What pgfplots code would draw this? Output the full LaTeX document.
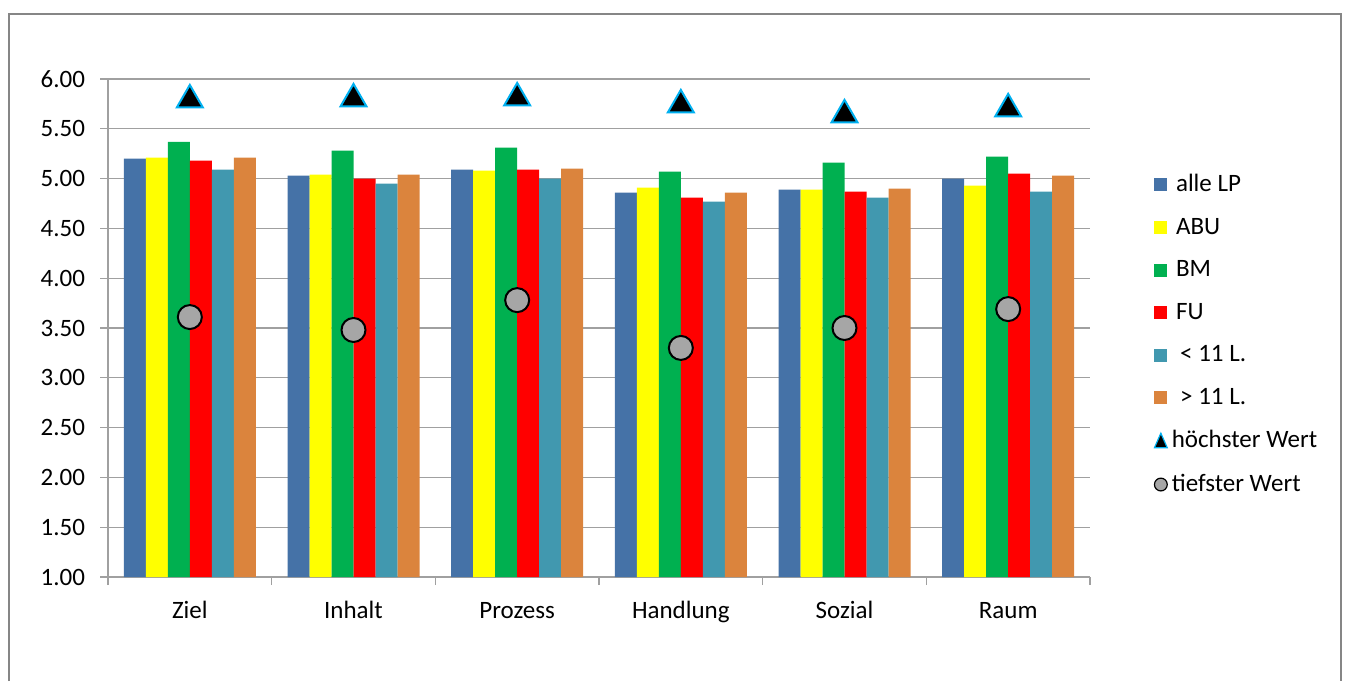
\documentclass[border=0pt]{standalone}
\usepackage{pgfplots}
\pgfplotsset{compat=1.18}
\usepackage{fontspec}
\setmainfont{Carlito}
\definecolor{cBlue}{HTML}{4572A7}
\definecolor{cYellow}{HTML}{FFFF00}
\definecolor{cGreen}{HTML}{00B050}
\definecolor{cRed}{HTML}{FF0000}
\definecolor{cTeal}{HTML}{4198AF}
\definecolor{cOrange}{HTML}{DB843D}
\definecolor{cTri}{HTML}{00B0F0}
\definecolor{cCirc}{HTML}{A6A6A6}
\definecolor{cGrid}{HTML}{A0A0A0}
\definecolor{cFrame}{HTML}{868686}
\pgfplotsset{
  sq/.style={legend image code/.code={\fill[#1] (0pt,-3.25pt) rectangle (6.5pt,3.25pt);}},
}
\begin{document}
\begin{tikzpicture}[font=\fontsize{12.5}{15}\selectfont]
\path[use as bounding box] (0,0) rectangle (674pt,340.5pt);
\draw[cFrame, line width=1pt] (4.5pt,0) -- (4.5pt,333.5pt) -- (670.5pt,333.5pt) -- (670.5pt,0);
\begin{axis}[
  at={(54pt,52pt)}, anchor=south west, scale only axis,
  width=491pt, height=249pt,
  xmin=-0.5, xmax=5.5, ymin=1, ymax=6,
  ytick={1,1.5,...,6},
  xtick={0,1,2,3,4,5},
  xticklabels={Ziel,Inhalt,Prozess,Handlung,Sozial,Raum},
  minor xtick={-0.5,0.5,...,5.5},
  major x tick style={draw=none},
  tick align=outside,
  major tick length=4pt, minor tick length=4pt,
  tick style={cGrid, line width=0.6pt},
  axis x line*=bottom, axis y line*=left,
  axis line style={cGrid, line width=0.6pt},
  ymajorgrids, grid style={cGrid, line width=0.6pt},
  /pgf/number format/assume math mode=true,
  yticklabel style={/pgf/number format/fixed, /pgf/number format/fixed zerofill, /pgf/number format/precision=2, xshift=-4pt},
  xticklabel style={yshift=-4pt, text height=9pt, text depth=3pt},
  legend style={draw=none, fill=none, at={(1.0585,0.825)}, anchor=north west, row sep=7.7pt, cells={anchor=west}, font=\fontsize{12.5}{15}\selectfont},
]
\addplot[ybar, bar width=11pt, bar shift=-27.5pt, fill=cBlue, draw=none, sq=cBlue] coordinates {(0,5.20) (1,5.03) (2,5.09) (3,4.86) (4,4.89) (5,5.00)};
\addlegendentry{\,alle LP}
\addplot[ybar, bar width=11pt, bar shift=-16.5pt, fill=cYellow, draw=none, sq=cYellow] coordinates {(0,5.21) (1,5.04) (2,5.08) (3,4.91) (4,4.89) (5,4.93)};
\addlegendentry{\,ABU}
\addplot[ybar, bar width=11pt, bar shift=-5.5pt, fill=cGreen, draw=none, sq=cGreen] coordinates {(0,5.37) (1,5.28) (2,5.31) (3,5.07) (4,5.16) (5,5.22)};
\addlegendentry{\,BM}
\addplot[ybar, bar width=11pt, bar shift=5.5pt, fill=cRed, draw=none, sq=cRed] coordinates {(0,5.18) (1,5.00) (2,5.09) (3,4.81) (4,4.87) (5,5.05)};
\addlegendentry{\,FU}
\addplot[ybar, bar width=11pt, bar shift=16.5pt, fill=cTeal, draw=none, sq=cTeal] coordinates {(0,5.09) (1,4.95) (2,5.00) (3,4.77) (4,4.81) (5,4.87)};
\addlegendentry{\,\,< 11 L.}
\addplot[ybar, bar width=11pt, bar shift=27.5pt, fill=cOrange, draw=none, sq=cOrange] coordinates {(0,5.21) (1,5.04) (2,5.10) (3,4.86) (4,4.90) (5,5.03)};
\addlegendentry{\,\,> 11 L.}
\addplot[only marks, mark=triangle*, mark size=7.5pt, mark options={fill=black, draw=cTri, line width=1pt},
  legend image code/.code={\draw[fill=black, draw=cTri, line width=0.6pt] (0.3pt,-3.5pt) -- (6.7pt,-3.5pt) -- (3.5pt,3.8pt) -- cycle;}]
  coordinates {(0,5.79) (1,5.80) (2,5.81) (3,5.74) (4,5.64) (5,5.70)};
\addlegendentry{höchster Wert}
\addplot[only marks, mark=*, mark size=6pt, mark options={fill=cCirc, draw=black, line width=1pt},
  legend image code/.code={\draw[fill=cCirc, draw=black, line width=0.6pt] (3.5pt,0pt) circle (3.2pt);}]
  coordinates {(0,3.61) (1,3.48) (2,3.78) (3,3.30) (4,3.50) (5,3.69)};
\addlegendentry{tiefster Wert}
\end{axis}
\end{tikzpicture}
\end{document}
